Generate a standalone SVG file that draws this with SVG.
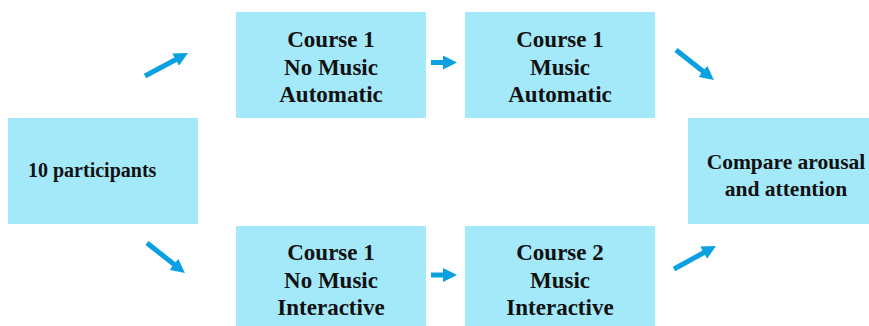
<svg xmlns="http://www.w3.org/2000/svg" width="869" height="326" viewBox="0 0 869 326">
<style>
.box{fill:#a4e9f9;}
.t{font-family:'Liberation Serif','Times New Roman','DejaVu Serif',serif;font-weight:700;fill:#111;text-anchor:middle;}
.c{font-size:23px;}
.s{font-size:20px;}
.m{font-size:21.5px;}
.arr{stroke:#0aa0e2;stroke-width:5;fill:none;marker-end:url(#ah);}
</style>
<defs>
<marker id="ah" viewBox="0 0 14 14" refX="4" refY="7" markerWidth="14" markerHeight="14" markerUnits="userSpaceOnUse" orient="auto">
<path d="M0,0 L14,7 L0,14 z" fill="#0aa0e2"/>
</marker>
</defs>
<rect width="869" height="326" fill="#fff"/>
<g id="participants">
<rect class="box" x="8" y="118" width="190" height="106"/>
<text class="t s" x="28" y="177" text-anchor="start" style="text-anchor:start">10 participants</text>
</g>
<g id="c1-nomusic-auto">
<rect class="box" x="236" y="12" width="190" height="106"/>
<text class="t c" x="331" y="47">Course 1</text>
<text class="t c" x="331" y="74.5">No Music</text>
<text class="t c" x="331" y="102">Automatic</text>
</g>
<g id="c1-music-auto">
<rect class="box" x="465" y="12" width="190" height="106"/>
<text class="t c" x="560" y="47">Course 1</text>
<text class="t c" x="560" y="74.5">Music</text>
<text class="t c" x="560" y="102">Automatic</text>
</g>
<g id="c1-nomusic-inter">
<rect class="box" x="236" y="226" width="190" height="100"/>
<text class="t c" x="331" y="260">Course 1</text>
<text class="t c" x="331" y="287.5">No Music</text>
<text class="t c" x="331" y="315">Interactive</text>
</g>
<g id="c2-music-inter">
<rect class="box" x="465" y="226" width="190" height="100"/>
<text class="t c" x="560" y="260">Course 2</text>
<text class="t c" x="560" y="287.5">Music</text>
<text class="t c" x="560" y="315">Interactive</text>
</g>
<g id="compare">
<rect class="box" x="688" y="118" width="181" height="106"/>
<text class="t m" x="786" y="169">Compare arousal</text>
<text class="t m" x="786" y="196">and attention</text>
</g>
<g id="connectors">
<line class="arr" x1="145" y1="76" x2="179.2" y2="57.7"/>
<line class="arr" x1="431" y1="62.5" x2="447" y2="62.5"/>
<line class="arr" x1="676" y1="50" x2="706.1" y2="73.8"/>
<line class="arr" x1="147" y1="243" x2="177.1" y2="266.8"/>
<line class="arr" x1="431" y1="275" x2="447" y2="275"/>
<line class="arr" x1="674" y1="269" x2="707.2" y2="250.8"/>
</g>
</svg>
